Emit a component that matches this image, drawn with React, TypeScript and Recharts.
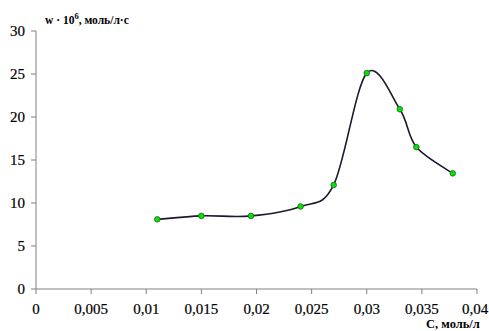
import React from 'react';
import { LineChart, Line, XAxis, YAxis } from 'recharts';

// concentration, mol/l
const conc = [0.011, 0.015, 0.0195, 0.024, 0.027, 0.030, 0.033, 0.0345, 0.0378];
// rate w * 10^6
const rate = [8.1, 8.5, 8.5, 9.6, 12.1, 25.1, 20.9, 16.5, 13.45];
const xTicks = [0, 0.005, 0.01, 0.015, 0.02, 0.025, 0.03, 0.035, 0.04];
const yTicks = [0, 5, 10, 15, 20, 25, 30];

const data = conc.map((c, i) => ({ c, w: rate[i] }));

// Catmull-Rom smoothing, like Excel's smoothed line
const smoothCurve = (context: any) => {
  let pts: [number, number][] = [];
  return {
    areaStart() {},
    areaEnd() {},
    lineStart() { pts = []; },
    point(x: number, y: number) { pts.push([x, y]); },
    lineEnd() {
      if (!pts.length) return;
      context.moveTo(pts[0][0], pts[0][1]);
      for (let i = 0; i < pts.length - 1; i++) {
        const p0 = pts[i - 1] || pts[i];
        const p1 = pts[i];
        const p2 = pts[i + 1];
        const p3 = pts[i + 2] || p2;
        context.bezierCurveTo(
          p1[0] + (p2[0] - p0[0]) / 6, p1[1] + (p2[1] - p0[1]) / 6,
          p2[0] - (p3[0] - p1[0]) / 6, p2[1] - (p3[1] - p1[1]) / 6,
          p2[0], p2[1]
        );
      }
    },
  };
};

const serif = '"Liberation Serif", "Times New Roman", serif';
const fmt = (v: number) => String(v).replace('.', ',');
const axisColor = '#808080';
const tickText = { fontFamily: serif, fontSize: 15, fill: '#000', stroke: '#000', strokeWidth: 0.2 };

const XTick = (props: any) => {
  const { x, y, payload } = props;
  return (
    <text x={x} y={y + 12} textAnchor="middle" style={tickText}>
      {fmt(payload.value)}
    </text>
  );
};

const YTick = (props: any) => {
  const { x, y, payload } = props;
  return (
    <text x={x - 2} y={y + 5} textAnchor="end" style={tickText}>
      {payload.value}
    </text>
  );
};

export default function App() {
  return (
    <div style={{ position: 'absolute', left: 0, top: 0, width: 489, height: 331, background: '#fff', fontFamily: serif, overflow: 'hidden' }}>
      <LineChart width={489} height={331} data={data} margin={{ top: 31, right: 12, bottom: 12, left: 0 }}>
        <XAxis
          dataKey="c"
          type="number"
          domain={[0, 0.04]}
          ticks={xTicks}
          stroke={axisColor}
          tick={<XTick />}
          tickSize={5}
          tickMargin={8}
          height={30}
        />
        <YAxis
          type="number"
          domain={[0, 30]}
          ticks={yTicks}
          stroke={axisColor}
          tick={<YTick />}
          tickSize={5}
          tickMargin={4}
          width={36}
        />
        <Line
          dataKey="w"
          type={smoothCurve as any}
          stroke="#1a1a2e"
          strokeWidth={1.6}
          dot={{ r: 2.8, fill: '#00e600', stroke: '#2a5a2a', strokeWidth: 0.8 }}
          isAnimationActive={false}
        />
      </LineChart>
      <div style={{ position: 'absolute', left: 45, top: 11, fontWeight: 'bold', fontSize: 11.5, whiteSpace: 'nowrap' }}>
        w · 10<sup style={{ fontSize: 8.5 }}>6</sup>, моль/л·с
      </div>
      <div style={{ position: 'absolute', left: 426, top: 317, fontWeight: 'bold', fontSize: 12.5, whiteSpace: 'nowrap' }}>
        С, моль/л
      </div>
    </div>
  );
}
